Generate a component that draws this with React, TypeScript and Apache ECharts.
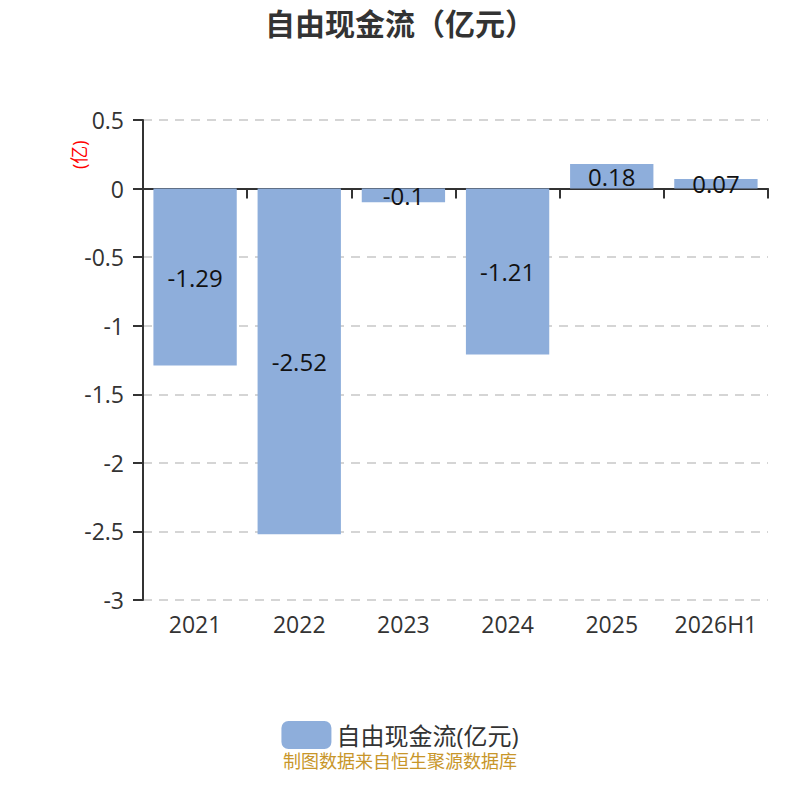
import React, { useEffect, useRef } from "react";
import * as echarts from "echarts";

const categories = ["2021", "2022", "2023", "2024", "2025", "2026H1"];
const values = [-1.29, -2.52, -0.1, -1.21, 0.18, 0.07];
const seriesName = "自由现金流(亿元)";
const titleText = "自由现金流（亿元）";
const unitText = "(亿)";
const sourceText = "制图数据来自恒生聚源数据库";

const FONT = "'Open Sans', 'Noto Sans CJK SC', sans-serif";

export default function App() {
  const ref = useRef<HTMLDivElement>(null);
  useEffect(() => {
    const chart = echarts.init(ref.current!, null, { renderer: "svg" });
    chart.setOption({
      animation: false,
      textStyle: { fontFamily: FONT },
      title: {
        text: titleText,
        left: "center",
        top: 0,
        padding: 0,
        textStyle: { fontSize: 30, lineHeight: 30, fontWeight: "bold", color: "#333", fontFamily: FONT },
      },
      grid: { left: 135, right: 24, top: 112, bottom: 192 },
      legend: {
        bottom: 38,
        left: "center",
        itemWidth: 50,
        itemHeight: 28,
        itemGap: 10,
        icon: "roundRect",
        textStyle: { fontSize: 24, color: "#333", fontFamily: FONT },
        data: [seriesName],
      },
      graphic: [
        {
          type: "text",
          x: 62,
          y: 161,
          rotation: Math.PI / 2,
          style: { text: unitText, fill: "#ff0000", fontSize: 18, fontFamily: FONT },
        },
        {
          type: "text",
          left: "center",
          top: 744,
          style: { text: sourceText, fill: "#c8962a", fontSize: 18, fontFamily: FONT },
        },
      ],
      xAxis: [
        {
          type: "category",
          data: categories,
          axisLine: { onZero: true, lineStyle: { color: "#333", width: 2 } },
          axisTick: { show: true, length: 10, lineStyle: { color: "#333", width: 2 } },
          axisLabel: { show: false },
          splitLine: { show: false },
        },
        {
          type: "category",
          data: categories,
          position: "bottom",
          axisLine: { show: false },
          axisTick: { show: false },
          axisLabel: {
            show: true,
            interval: 0,
            hideOverlap: false,
            fontSize: 23,
            color: "#333",
            margin: 12,
            fontFamily: FONT,
          },
        },
      ],
      yAxis: {
        type: "value",
        min: -3,
        max: 0.5,
        interval: 0.5,
        axisLine: { show: true, lineStyle: { color: "#333", width: 2 } },
        axisTick: { show: true, length: 10, lineStyle: { color: "#333", width: 2 } },
        axisLabel: { fontSize: 23, color: "#333", margin: 19, fontFamily: FONT },
        splitLine: { show: true, lineStyle: { type: [9, 7], color: "#c8c8c8", width: 1.5 } },
      },
      series: [
        {
          name: seriesName,
          type: "bar",
          xAxisIndex: 0,
          data: values,
          barWidth: "80%",
          itemStyle: { color: "#8eaedb" },
          label: {
            show: true,
            position: "inside",
            fontSize: 24,
            color: "#111",
            fontFamily: FONT,
          },
        },
      ],
    });
    return () => chart.dispose();
  }, []);
  return <div ref={ref} style={{ width: 784, height: 784 }} />;
}
